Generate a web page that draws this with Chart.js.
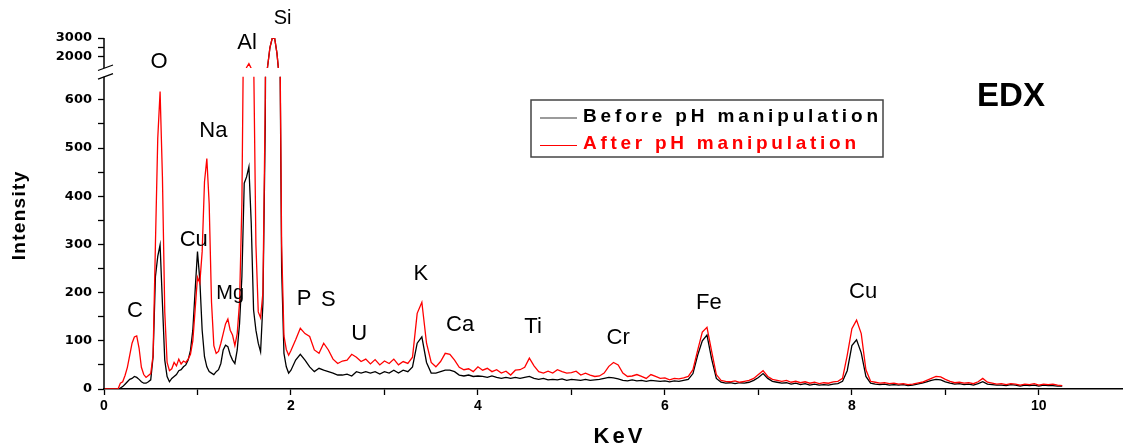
<!DOCTYPE html>
<html>
<head>
<meta charset="utf-8">
<title>EDX</title>
<script src="https://cdn.jsdelivr.net/npm/chart.js@4.4.1/dist/chart.umd.min.js"></script>
<style>
  html, body { margin: 0; padding: 0; background: #fff; }
  #edx { display: block; }
</style>
</head>
<body>
<canvas id="edx" width="1123" height="446"></canvas>
<script>
// canaux du spectre (keV) : pas fin en basse energie, plus large ensuite
var lowStart = 0, lowStep = 0.025;
var highStart = 2.0, highStep = 0.05;

// intensites 0 -> 1.975 keV
var beforeLow = [
    0, 0, 0, 0, 0, 0, 0, 2,
    5, 10, 15, 20, 22, 26, 24, 20,
    15, 12, 12, 15, 19, 67, 233, 275,
    299, 178, 60, 26, 15, 22, 26, 30,
    38, 40, 46, 50, 60, 80, 122, 205,
    285, 226, 122, 67, 46, 36, 33, 30,
    36, 40, 53, 81, 91, 88, 71, 60,
    53, 81, 136, 233, 427, 440, 461, 344,
    164, 122, 95, 77, 178, 550, 1500, 2500,
    3000, 3000, 2200, 900, 250, 74, 46, 33
];
var afterLow = [
    0, 0, 0, 0, 0, 0, 0, 12,
    15, 28, 45, 70, 95, 108, 110, 85,
    45, 30, 24, 28, 32, 70, 300, 520,
    617, 440, 160, 55, 38, 42, 55, 48,
    62, 52, 58, 55, 62, 72, 100, 165,
    232, 220, 285, 430, 478, 385, 180, 90,
    74, 78, 95, 115, 135, 145, 122, 112,
    90, 115, 180, 385, 900, 1450, 1650, 1400,
    700, 300, 160, 148, 200, 600, 1500, 2500,
    3000, 3000, 2200, 900, 300, 110, 82, 70
];

// intensites 2.00 -> 10.25 keV
var beforeHigh = [
    39, 60, 72, 60, 46, 36, 43, 39, 36, 33,
    29, 29, 31, 27, 36, 33, 36, 33, 36, 31,
    36, 33, 39, 33, 39, 36, 46, 95, 108, 55,
    33, 33, 36, 39, 39, 36, 29, 27, 29, 26,
    27, 26, 24, 27, 24, 22, 24, 22, 24, 22,
    24, 26, 22, 20, 22, 19, 20, 19, 21, 18,
    20, 19, 18, 20, 18, 19, 20, 22, 24, 23,
    21, 18, 17, 19, 17, 18, 16, 18, 17, 16,
    17, 15, 17, 16, 18, 20, 32, 70, 100, 112,
    62, 22, 14, 12, 13, 11, 13, 12, 14, 18,
    24, 32, 22, 16, 14, 12, 13, 10, 12, 9,
    11, 8, 10, 8, 9, 8, 10, 11, 16, 38,
    90, 102, 75, 26, 12, 10, 9, 10, 8, 9,
    8, 9, 7, 8, 10, 12, 15, 18, 20, 19,
    15, 12, 10, 11, 9, 10, 8, 11, 15, 10,
    9, 8, 8, 7, 9, 8, 6, 8, 7, 8,
    6, 8, 7, 7, 6, 6
];
var afterHigh = [
    80, 102, 126, 115, 109, 81, 74, 95, 81, 62,
    53, 58, 60, 72, 66, 57, 62, 52, 61, 50,
    58, 53, 62, 50, 57, 53, 66, 157, 180, 95,
    55, 46, 57, 74, 72, 60, 45, 40, 42, 36,
    46, 39, 43, 36, 40, 33, 37, 29, 39, 40,
    45, 64, 48, 36, 33, 37, 33, 40, 36, 33,
    34, 37, 29, 33, 29, 26, 27, 33, 47, 55,
    50, 33, 26, 27, 30, 26, 22, 30, 26, 22,
    23, 19, 22, 21, 23, 26, 40, 80, 118, 128,
    78, 30, 18, 16, 15, 17, 14, 16, 18, 22,
    30, 38, 26, 20, 18, 16, 18, 14, 16, 13,
    15, 12, 14, 11, 13, 12, 15, 16, 22, 70,
    125, 143, 115, 40, 16, 14, 12, 13, 11, 12,
    10, 11, 9, 10, 12, 14, 18, 22, 26, 25,
    20, 16, 13, 14, 12, 13, 11, 15, 22, 14,
    12, 10, 11, 9, 11, 10, 8, 10, 9, 11,
    8, 10, 9, 10, 8, 7
];

var seriesNames = ['Before pH manipulation', 'After pH manipulation'];
var seriesColors = ['#000000', '#ff0000'];

// axe coupe : partie basse 0-650, partie haute 2000-3000
var lowTicks = [0, 50, 100, 150, 200, 250, 300, 350, 400, 450, 500, 550, 600];
var lowTickLabels = [0, 100, 200, 300, 400, 500, 600];
var highTicks = [2000, 2500, 3000];
var highTickLabels = [2000, 3000];
var xTicks = [0, 1, 2, 3, 4, 5, 6, 7, 8, 9, 10];
var xTickLabels = [0, 2, 4, 6, 8, 10];
var breakLow = 648, breakHigh = 1420;

// noms des pics (position en keV / intensite)
var peakNames = ['C', 'O', 'Na', 'Cu', 'Mg', 'Al', 'Si', 'P', 'S', 'U', 'K', 'Ca', 'Ti', 'Cr', 'Fe', 'Cu'];
var peakKeV = [0.33, 0.59, 1.17, 0.96, 1.35, 1.53, 1.91, 2.14, 2.40, 2.73, 3.39, 3.81, 4.59, 5.50, 6.47, 8.12];
var peakLevel = [162, 678, 535, 309, 199, 718, 769, 187, 185, 114, 238, 133, 129, 106, 178, 201];

function toPoints(low, high) {
    var pts = [];
    for (var i = 0; i < low.length; i++) {
        pts.push({x: +(lowStart + i * lowStep).toFixed(3), y: low[i]});
    }
    for (var j = 0; j < high.length; j++) {
        pts.push({x: +(highStart + j * highStep).toFixed(3), y: high[j]});
    }
    return pts;
}

var beforePts = toPoints(beforeLow, beforeHigh);
var afterPts = toPoints(afterLow, afterHigh);

var sans = '"Liberation Sans", Arial, Helvetica, sans-serif';

// texte avec espacement entre lettres
function spacedText(ctx, text, x, y, spacing, align) {
    var widths = [], total = 0;
    for (var i = 0; i < text.length; i++) {
        widths.push(ctx.measureText(text[i]).width);
        total += widths[i];
    }
    total += spacing * (text.length - 1);
    var cx = align === 'center' ? x - total / 2 : x;
    ctx.textAlign = 'left';
    for (var k = 0; k < text.length; k++) {
        ctx.fillText(text[k], cx, y);
        cx += widths[k] + spacing;
    }
}

function fitText(ctx, text, x, y, width) {
    var w = ctx.measureText(text).width;
    spacedText(ctx, text, x, y, (width - w) / (text.length - 1), 'left');
}

function fixedTicks(list) {
    return function (scale) {
        scale.ticks = list.map(function (v) { return {value: v}; });
    };
}

var edxDecor = {
    id: 'edxDecor',
    beforeDatasetDraw: function (chart, args) {
        var ctx = chart.ctx, a = chart.chartArea;
        var top, bottom;
        if (args.meta.yAxisID === 'y2') {
            top = a.top - 1;
            bottom = chart.scales.y2.getPixelForValue(breakHigh);
        } else {
            top = chart.scales.y.getPixelForValue(breakLow);
            bottom = a.bottom + 2;
        }
        ctx.save();
        ctx.beginPath();
        ctx.rect(a.left - 1, top, a.right - a.left + 2, bottom - top);
        ctx.clip();
    },
    afterDatasetDraw: function (chart) {
        chart.ctx.restore();
    },
    afterDraw: function (chart) {
        var ctx = chart.ctx, a = chart.chartArea;
        var yLow = chart.scales.y, yHigh = chart.scales.y2, xs = chart.scales.x;
        var lowTop = yLow.getPixelForValue(breakLow);
        var highBottom = yHigh.getPixelForValue(breakHigh);

        ctx.save();
        // axe y coupe
        ctx.strokeStyle = '#000';
        ctx.lineWidth = 1.5;
        ctx.beginPath();
        ctx.moveTo(a.left, a.bottom);
        ctx.lineTo(a.left, lowTop);
        ctx.moveTo(a.left, highBottom);
        ctx.lineTo(a.left, a.top);
        ctx.stroke();
        ctx.lineWidth = 1.2;
        ctx.beginPath();
        ctx.moveTo(a.left - 6, highBottom + 2.5);
        ctx.lineTo(a.left + 9, highBottom - 3);
        ctx.moveTo(a.left - 6, lowTop + 2.5);
        ctx.lineTo(a.left + 9, lowTop - 3);
        ctx.stroke();

        // noms des elements
        ctx.fillStyle = '#000';
        ctx.textBaseline = 'middle';
        ctx.textAlign = 'center';
        for (var i = 0; i < peakNames.length; i++) {
            var size = (peakNames[i] === 'Mg' || peakNames[i] === 'Si') ? 20 : 22;
            ctx.font = size + 'px ' + sans;
            ctx.fillText(peakNames[i], xs.getPixelForValue(peakKeV[i]), yLow.getPixelForValue(peakLevel[i]));
        }

        // titres
        ctx.textBaseline = 'alphabetic';
        ctx.font = 'bold 33px ' + sans;
        ctx.fillText('EDX', 1011, 106);

        ctx.font = 'bold 22px ' + sans;
        spacedText(ctx, 'KeV', 618, 443, 3, 'center');

        ctx.save();
        ctx.translate(25, 216);
        ctx.rotate(-Math.PI / 2);
        ctx.font = 'bold 19px ' + sans;
        spacedText(ctx, 'Intensity', 0, 0, 1.3, 'center');
        ctx.restore();

        // legende
        ctx.strokeStyle = '#444';
        ctx.lineWidth = 1.5;
        ctx.strokeRect(531, 100, 352, 57);
        ctx.lineWidth = 1.5;
        ctx.strokeStyle = '#7a7a7a';
        ctx.beginPath();
        ctx.moveTo(540, 118);
        ctx.lineTo(577, 118);
        ctx.stroke();
        ctx.lineWidth = 1;
        ctx.strokeStyle = seriesColors[1];
        ctx.beginPath();
        ctx.moveTo(540, 145.5);
        ctx.lineTo(577, 145.5);
        ctx.stroke();

        ctx.font = 'bold 19px ' + sans;
        ctx.fillStyle = seriesColors[0];
        fitText(ctx, seriesNames[0], 583, 122, 295);
        ctx.fillStyle = seriesColors[1];
        fitText(ctx, seriesNames[1], 583, 149, 273);
        ctx.restore();
    }
};

function lineSet(name, color, pts, axis, order) {
    return {
        label: name,
        data: pts,
        yAxisID: axis,
        borderColor: color,
        backgroundColor: color,
        borderWidth: 1.3,
        pointRadius: 0,
        tension: 0,
        fill: false,
        order: order
    };
}

var tickFont = {family: '"DejaVu Sans", sans-serif', size: 13, weight: 'bold'};

var chart = new Chart(document.getElementById('edx'), {
    type: 'line',
    data: {
        datasets: [
            lineSet(seriesNames[1], seriesColors[1], afterPts, 'y', 0),
            lineSet(seriesNames[0], seriesColors[0], beforePts, 'y', 1),
            lineSet(seriesNames[1], seriesColors[1], afterPts, 'y2', 0),
            lineSet(seriesNames[0], seriesColors[0], beforePts, 'y2', 1)
        ]
    },
    options: {
        responsive: false,
        animation: false,
        events: [],
        layout: {padding: {top: 38, left: 0, right: 0, bottom: 0}},
        plugins: {
            legend: {display: false},
            tooltip: {enabled: false}
        },
        scales: {
            x: {
                type: 'linear',
                min: 0,
                max: 10.9,
                afterBuildTicks: fixedTicks(xTicks),
                afterFit: function (s) { s.height = 57; },
                border: {display: true, color: '#000', width: 1.5},
                grid: {drawOnChartArea: false, drawTicks: true, tickLength: 6, tickWidth: 1.3, tickColor: '#000'},
                ticks: {
                    autoSkip: false,
                    maxRotation: 0,
                    padding: 3,
                    color: '#000',
                    font: {family: sans, size: 14, weight: 'bold'},
                    callback: function (v) { return xTickLabels.indexOf(v) >= 0 ? String(v) : ''; }
                }
            },
            y: {
                type: 'linear',
                position: 'left',
                stack: 'edx',
                stackWeight: 317,
                min: 0,
                max: 657.7,
                afterBuildTicks: fixedTicks(lowTicks),
                afterFit: function (s) { s.width = 104; },
                border: {display: false},
                grid: {drawOnChartArea: false, drawTicks: true, tickLength: 6, tickWidth: 1.3, tickColor: '#000'},
                ticks: {
                    autoSkip: false,
                    padding: 6,
                    color: '#000',
                    font: tickFont,
                    callback: function (v) { return lowTickLabels.indexOf(v) >= 0 ? String(v) : ''; }
                }
            },
            y2: {
                type: 'linear',
                position: 'left',
                stack: 'edx',
                stackWeight: 34,
                min: 1210.5,
                max: 3000,
                afterBuildTicks: fixedTicks(highTicks),
                afterFit: function (s) { s.width = 104; },
                border: {display: false},
                grid: {drawOnChartArea: false, drawTicks: true, tickLength: 6, tickWidth: 1.3, tickColor: '#000'},
                ticks: {
                    autoSkip: false,
                    padding: 6,
                    color: '#000',
                    font: tickFont,
                    callback: function (v) { return highTickLabels.indexOf(v) >= 0 ? String(v) : ''; }
                }
            }
        }
    },
    plugins: [edxDecor]
});
</script>
</body>
</html>
